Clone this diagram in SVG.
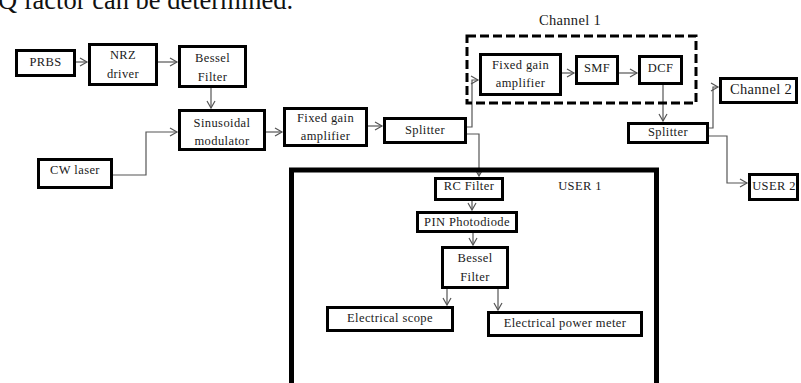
<svg xmlns="http://www.w3.org/2000/svg" width="801" height="383" viewBox="0 0 801 383">
<style>
.box{fill:#fff;stroke:#000;stroke-width:3}
.lbl{font-family:"Liberation Serif","Times New Roman",serif;font-size:12.5px;letter-spacing:0.4px;fill:#1a1a1a;text-anchor:middle}
.big{font-size:14.5px;letter-spacing:0.3px}
.con{fill:none;stroke:#555;stroke-width:1.2}
</style>
<defs>
<marker id="arr" markerUnits="userSpaceOnUse" markerWidth="10" markerHeight="10" refX="8" refY="5" orient="auto">
<path d="M1,1 L8,5 L1,9" fill="none" stroke="#555" stroke-width="1.2"/>
</marker>
</defs>
<rect width="801" height="383" fill="#fff"/>
<text x="-2" y="9" style="font-family:'Liberation Serif','Times New Roman',serif;font-size:26.5px;fill:#111">Q factor can be determined.</text>

<g id="connectors" class="con">
<path class="con" d="M76,62 H87" marker-end="url(#arr)"/>
<path class="con" d="M158,62 H177" marker-end="url(#arr)"/>
<path class="con" d="M211,88 V108" marker-end="url(#arr)"/>
<path class="con" d="M113,175 H146 V132 H177" marker-end="url(#arr)"/>
<path class="con" d="M266,132 H282" marker-end="url(#arr)"/>
<path class="con" d="M368,126 H382" marker-end="url(#arr)"/>
<path class="con" d="M467,127 H472 V80 H478" marker-end="url(#arr)"/>
<path class="con" d="M467,134 H479 V176" marker-end="url(#arr)"/>
<path class="con" d="M562,73 H574" marker-end="url(#arr)"/>
<path class="con" d="M619,73 H637" marker-end="url(#arr)"/>
<path class="con" d="M663,84 V121" marker-end="url(#arr)"/>
<path class="con" d="M709,128 H713 V87 H718" marker-end="url(#arr)"/>
<path class="con" d="M709,136 H727 V183 H747" marker-end="url(#arr)"/>
<path class="con" d="M472,200 V210" marker-end="url(#arr)"/>
<path class="con" d="M473,232 V245" marker-end="url(#arr)"/>
<path class="con" d="M447,288 V305" marker-end="url(#arr)"/>
<path class="con" d="M498,288 V310" marker-end="url(#arr)"/>
</g>

<g id="channel1">
<rect x="467" y="36" width="229" height="67" fill="none" stroke="#000" stroke-width="3" stroke-dasharray="9,4"/>
<text class="lbl big" x="570" y="25">Channel 1</text>
</g>

<g id="user1">
<rect x="291.5" y="170" width="365" height="220" fill="none" stroke="#000" stroke-width="5"/>
<text class="lbl" x="580" y="190">USER 1</text>
</g>

<g id="prbs"><rect class="box" x="16.5" y="50.5" width="58" height="25"/><text class="lbl" x="45.5" y="66">PRBS</text></g>
<g id="nrz"><rect class="box" x="89.5" y="44.5" width="67" height="40"/><text class="lbl" x="123" y="59">NRZ</text><text class="lbl" x="123" y="78">driver</text></g>
<g id="bessel1"><rect class="box" x="179.5" y="46.5" width="66" height="40"/><text class="lbl" x="212.5" y="62">Bessel</text><text class="lbl" x="212.5" y="81">Filter</text></g>
<g id="sinus"><rect class="box" x="179.5" y="110.5" width="85" height="39"/><text class="lbl" x="222" y="127">Sinusoidal</text><text class="lbl" x="222" y="145">modulator</text></g>
<g id="cwlaser"><rect class="box" x="38.5" y="159.5" width="73" height="28"/><text class="lbl" x="75" y="174">CW laser</text></g>
<g id="amp1"><rect class="box" x="284.5" y="108.5" width="82" height="37"/><text class="lbl" x="325.5" y="122">Fixed gain</text><text class="lbl" x="325.5" y="140">amplifier</text></g>
<g id="splitter1"><rect class="box" x="384.5" y="118.5" width="81" height="24"/><text class="lbl" x="425" y="134">Splitter</text></g>
<g id="amp2"><rect class="box" x="480.5" y="54.5" width="80" height="40"/><text class="lbl" x="520.5" y="69">Fixed gain</text><text class="lbl" x="520.5" y="87">amplifier</text></g>
<g id="smf"><rect class="box" x="576.5" y="56.5" width="41" height="27"/><text class="lbl" x="597" y="72">SMF</text></g>
<g id="dcf"><rect class="box" x="639.5" y="56.5" width="42" height="27"/><text class="lbl" x="660.5" y="72">DCF</text></g>
<g id="splitter2"><rect class="box" x="628.5" y="123.5" width="79" height="19"/><text class="lbl" x="668" y="136">Splitter</text></g>
<g id="channel2"><rect class="box" x="720.5" y="78.5" width="76" height="24"/><text class="lbl big" x="761" y="94">Channel 2</text></g>
<g id="user2"><rect class="box" x="749.5" y="174.5" width="48" height="25"/><text class="lbl" x="774" y="190">USER 2</text></g>
<g id="rcfilter"><rect class="box" x="435.5" y="178.5" width="67" height="21"/><text class="lbl" x="469" y="190">RC Filter</text></g>
<g id="pin"><rect class="box" x="417.5" y="212.5" width="99" height="19"/><text class="lbl" x="467" y="226">PIN Photodiode</text></g>
<g id="bessel2"><rect class="box" x="442.5" y="247.5" width="65" height="40"/><text class="lbl" x="475" y="262">Bessel</text><text class="lbl" x="475" y="281">Filter</text></g>
<g id="scope"><rect class="box" x="327.5" y="307.5" width="125" height="23"/><text class="lbl" x="390" y="322">Electrical scope</text></g>
<g id="powermeter"><rect class="box" x="488.5" y="312.5" width="153" height="23"/><text class="lbl" x="565" y="327">Electrical power meter</text></g>
</svg>
